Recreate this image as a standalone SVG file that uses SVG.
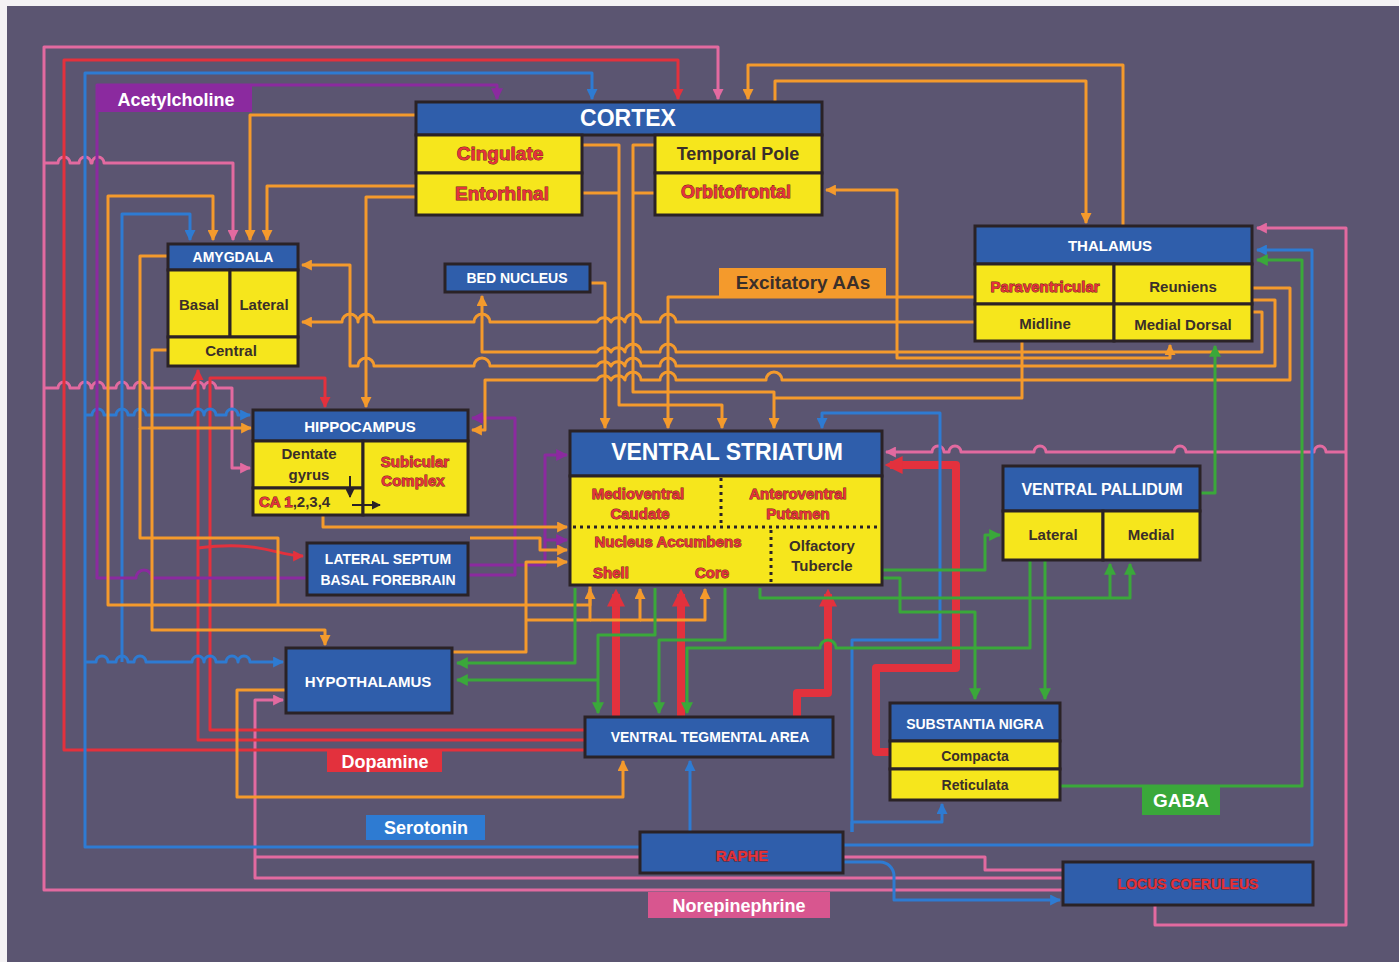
<svg xmlns="http://www.w3.org/2000/svg" width="1399" height="962" viewBox="0 0 1399 962">
<defs>
<style>
.bg{fill:#5b5571}
.nb{fill:#2f5eab;stroke:#2a2226;stroke-width:3}
.ny{fill:#f6e61c;stroke:#2a2226;stroke-width:3}
.c{fill:none;stroke-width:3;stroke-linejoin:round;stroke-linecap:butt}
.o{stroke:#f49a2c}
.r{stroke:#e3313d}
.rt{stroke:#e3313d;stroke-width:8}
.b{stroke:#2e7bd2}
.p{stroke:#8b2a9f}
.g{stroke:#3aa83a}
.k{stroke:#e26aa0}
text{font-family:"Liberation Sans",Arial,Helvetica,sans-serif;font-weight:bold;text-anchor:middle}
.w{fill:#ffffff}
.rd{fill:#e5333b;stroke:#6a1c1c;stroke-width:0.9;paint-order:stroke}
.dk{fill:#3a2f2a}
.dot{fill:none;stroke:#2a2226;stroke-width:3;stroke-dasharray:3 4}
</style>
<marker id="ao" viewBox="0 0 10 10" refX="9" refY="5" markerWidth="11" markerHeight="11" markerUnits="userSpaceOnUse" orient="auto"><path d="M0,0L10,5L0,10z" fill="#f49a2c"/></marker>
<marker id="ar" viewBox="0 0 10 10" refX="9" refY="5" markerWidth="11" markerHeight="11" markerUnits="userSpaceOnUse" orient="auto"><path d="M0,0L10,5L0,10z" fill="#e3313d"/></marker>
<marker id="art" viewBox="0 0 10 10" refX="7" refY="5" markerWidth="18" markerHeight="18" markerUnits="userSpaceOnUse" orient="auto"><path d="M0,0L10,5L0,10z" fill="#e3313d"/></marker>
<marker id="ab" viewBox="0 0 10 10" refX="9" refY="5" markerWidth="11" markerHeight="11" markerUnits="userSpaceOnUse" orient="auto"><path d="M0,0L10,5L0,10z" fill="#2e7bd2"/></marker>
<marker id="ap" viewBox="0 0 10 10" refX="9" refY="5" markerWidth="12" markerHeight="12" markerUnits="userSpaceOnUse" orient="auto"><path d="M0,0L10,5L0,10z" fill="#8b2a9f"/></marker>
<marker id="ag" viewBox="0 0 10 10" refX="9" refY="5" markerWidth="12" markerHeight="12" markerUnits="userSpaceOnUse" orient="auto"><path d="M0,0L10,5L0,10z" fill="#3aa83a"/></marker>
<marker id="ak" viewBox="0 0 10 10" refX="9" refY="5" markerWidth="11" markerHeight="11" markerUnits="userSpaceOnUse" orient="auto"><path d="M0,0L10,5L0,10z" fill="#e26aa0"/></marker>
<marker id="ad" viewBox="0 0 10 10" refX="9" refY="5" markerWidth="9" markerHeight="9" markerUnits="userSpaceOnUse" orient="auto"><path d="M0,0L10,5L0,10z" fill="#2a2226"/></marker>
</defs>
<rect x="0" y="0" width="1399" height="962" fill="#f4f2f4"/>
<rect class="bg" x="7" y="6" width="1392" height="956"/>

<g id="connectors">
<!-- pink norepinephrine -->
<path class="c k" d="M1063,890 H44 V47 H718 V99" marker-end="url(#ak)"/>
<path class="c k" d="M1155,905 V925 H1346 V228 H1257" marker-end="url(#ak)"/>
<path class="c k" d="M44,163 H58 a6,6 0 0 1 12,0 H79 a6,6 0 0 1 12,0 H92 a6,6 0 0 1 12,0 H233 V240" marker-end="url(#ak)"/>
<path class="c k" d="M44,388 H58 a6,6 0 0 1 12,0 H79 a6,6 0 0 1 12,0 H92 a6,6 0 0 1 12,0 H116 a6,6 0 0 1 12,0 H134 a6,6 0 0 1 12,0 H192 a6,6 0 0 1 12,0 a6,6 0 0 1 12,0 H232 V468 H250" marker-end="url(#ak)"/>
<path class="c k" d="M1063,878 H255 V700 H283" marker-end="url(#ak)"/>
<path class="c k" d="M1063,870 H985 V857 H255"/>
<path class="c k" d="M1346,452 H1326 a6,6 0 0 0 -12,0 H1186 a6,6 0 0 0 -12,0 H1046 a6,6 0 0 0 -12,0 H961 a6,6 0 0 0 -12,0 H944 a6,6 0 0 0 -12,0 H886" marker-end="url(#ak)"/>

<!-- red dopamine -->
<path class="c r" d="M585,750 H64 V60 H678 V99" marker-end="url(#ar)"/>
<path class="c r" d="M585,740 H198 V370" marker-end="url(#ar)"/>
<path class="c r" d="M585,730 H210 V378 H325 V407" marker-end="url(#ar)"/>
<path class="c r" d="M198,548 C262,540 276,556 303,556" marker-end="url(#ar)"/>
<path class="c rt" d="M616,717 V594" marker-end="url(#art)"/>
<path class="c rt" d="M681,717 V594" marker-end="url(#art)"/>
<path class="c rt" d="M797,717 V693 H828 V594" marker-end="url(#art)"/>
<path class="c rt" d="M890,752 H876 V668 H956 V465 H890" marker-end="url(#art)"/>

<!-- blue serotonin -->
<path class="c b" d="M640,847 H85 V73 H592 V99" marker-end="url(#ab)"/>
<path class="c b" d="M85,662 H96 a6,6 0 0 1 12,0 H116 a6,6 0 0 1 12,0 H134 a6,6 0 0 1 12,0 H192 a6,6 0 0 1 12,0 a6,6 0 0 1 12,0 H226 a6,6 0 0 1 12,0 a6,6 0 0 1 12,0 H283" marker-end="url(#ab)"/>
<path class="c b" d="M122,662 V214 H190 V240" marker-end="url(#ab)"/>
<path class="c b" d="M85,415 H92 a6,6 0 0 1 12,0 H116 a6,6 0 0 1 12,0 H134 a6,6 0 0 1 12,0 H192 a6,6 0 0 1 12,0 a6,6 0 0 1 12,0 H226 a6,6 0 0 1 12,0 H250" marker-end="url(#ab)"/>
<path class="c b" d="M690,832 V761" marker-end="url(#ab)"/>
<path class="c b" d="M852,832 V822 H942 V804" marker-end="url(#ab)"/>
<path class="c b" d="M843,845 H1312 V250 H1257" marker-end="url(#ab)"/>
<path class="c b" d="M843,862 H880 a14,14 0 0 1 14,14 V900 H1060" marker-end="url(#ab)"/>
<path class="c b" d="M852,832 V640 H940 V413 H822 V428" marker-end="url(#ab)"/>

<!-- purple acetylcholine -->
<path class="c p" d="M307,578 H152 a8,8 0 0 0 -16,0 H97 V85 H497 V99" marker-end="url(#ap)"/>
<path class="c p" d="M468,575 H515 V418 H472" marker-end="url(#ap)"/>
<path class="c p" d="M468,565 H545 V455 H567" marker-end="url(#ap)"/>
<path class="c p" d="M545,540 H567" marker-end="url(#ap)"/>

<!-- orange excitatory amino acids -->
<path class="c o" d="M1123,226 V65 H748 V99" marker-end="url(#ao)"/>
<path class="c o" d="M775,102 V81 H1086 V223" marker-end="url(#ao)"/>
<path class="c o" d="M416,115 H250 V240" marker-end="url(#ao)"/>
<path class="c o" d="M416,186 H267 V240" marker-end="url(#ao)"/>
<path class="c o" d="M416,197 H366 V407" marker-end="url(#ao)"/>
<path class="c o" d="M590,585 V605 H108 V196 H213 V240" marker-end="url(#ao)"/>
<path class="c o" d="M582,145 H619 V405 H722 V428" marker-end="url(#ao)"/>
<path class="c o" d="M655,145 H633 V392 H774 V428" marker-end="url(#ao)"/>
<path class="c o" d="M582,193 H619 M655,193 H633"/>
<path class="c o" d="M590,283 H605 V428" marker-end="url(#ao)"/>
<path class="c o" d="M975,297 H897 V190 H826" marker-end="url(#ao)"/>
<path class="c o" d="M897,297 H668 V428" marker-end="url(#ao)"/>
<path class="c o" d="M975,322 H676 a8,8 0 0 0 -16,0 H641 a8,8 0 0 0 -16,0 a8,8 0 0 0 -14,0 a8,8 0 0 0 -14,0 H490 a8,8 0 0 0 -16,0 H374 a8,8 0 0 0 -16,0 a8,8 0 0 0 -16,0 H302" marker-end="url(#ao)"/>
<path class="c o" d="M1252,288 H1290 V380 H782 a8,8 0 0 0 -16,0 H676 a8,8 0 0 0 -16,0 H641 a8,8 0 0 0 -16,0 a8,8 0 0 0 -14,0 a8,8 0 0 0 -14,0 H485 V430 H472" marker-end="url(#ao)"/>
<path class="c o" d="M1252,300 H1275 V366 H676 a8,8 0 0 0 -16,0 H641 a8,8 0 0 0 -16,0 a8,8 0 0 0 -14,0 a8,8 0 0 0 -14,0 H490 a8,8 0 0 0 -16,0 H374 a8,8 0 0 0 -16,0 H350 V265 H302" marker-end="url(#ao)"/>
<path class="c o" d="M1252,312 H1262 V352 H676 a8,8 0 0 0 -16,0 H641 a8,8 0 0 0 -16,0 a8,8 0 0 0 -14,0 a8,8 0 0 0 -14,0 H482 V296" marker-end="url(#ao)"/>
<path class="c o" d="M1022,341 V398 H774"/>
<path class="c o" d="M897,297 V358 H1170 V345" marker-end="url(#ao)"/>
<path class="c o" d="M168,256 H140 V428 H251" marker-end="url(#ao)"/>
<path class="c o" d="M323,515 V527 H567" marker-end="url(#ao)"/>
<path class="c o" d="M140,428 V538 H278 V605"/>
<path class="c o" d="M470,538 H540 V550 H567" marker-end="url(#ao)"/>
<path class="c o" d="M168,350 H152 V630 H325 V645" marker-end="url(#ao)"/>
<path class="c o" d="M452,652 H526 V562 H567" marker-end="url(#ao)"/>
<path class="c o" d="M286,690 H237 V797 H623 V761" marker-end="url(#ao)"/>
<path class="c o" d="M526,620 H590 V589" marker-end="url(#ao)"/>
<path class="c o" d="M590,620 H640 V589" marker-end="url(#ao)"/>
<path class="c o" d="M640,620 H705 V589" marker-end="url(#ao)"/>

<!-- green GABA -->
<path class="c g" d="M1060,786 H1302 V260 H1257" marker-end="url(#ag)"/>
<path class="c g" d="M1200,493 H1215 V346" marker-end="url(#ag)"/>
<path class="c g" d="M575,588 V663 H457" marker-end="url(#ag)"/>
<path class="c g" d="M655,588 V635 H598 V713" marker-end="url(#ag)"/>
<path class="c g" d="M598,680 H457" marker-end="url(#ag)"/>
<path class="c g" d="M725,588 V640 H659 V713" marker-end="url(#ag)"/>
<path class="c g" d="M1030,560 V648 H836 a8,8 0 0 0 -16,0 H687 V713" marker-end="url(#ag)"/>
<path class="c g" d="M882,570 H985 V535 H1000" marker-end="url(#ag)"/>
<path class="c g" d="M882,578 H900 V612 H975 V699" marker-end="url(#ag)"/>
<path class="c g" d="M1045,560 V699" marker-end="url(#ag)"/>
<path class="c g" d="M760,588 V598 H1130 V564" marker-end="url(#ag)"/>
<path class="c g" d="M1110,598 V564" marker-end="url(#ag)"/>
</g>

<g id="labels">
<rect x="96" y="86" width="156" height="26" fill="#8b2a9f"/>
<text class="w" x="176" y="106" font-size="18">Acetylcholine</text>
<rect x="719" y="268" width="167" height="28" fill="#f49a2c"/>
<text class="dk" x="803" y="289" font-size="19">Excitatory AAs</text>
<rect x="327" y="750" width="115" height="22" fill="#e3313d"/>
<text class="w" x="385" y="768" font-size="18">Dopamine</text>
<rect x="366" y="815" width="119" height="25" fill="#2e7bd2"/>
<text class="w" x="426" y="834" font-size="18">Serotonin</text>
<rect x="1142" y="786" width="78" height="29" fill="#3aa83a"/>
<text class="w" x="1181" y="807" font-size="19">GABA</text>
<rect x="648" y="892" width="182" height="26" fill="#d8568f"/>
<text class="w" x="739" y="912" font-size="18">Norepinephrine</text>
</g>

<g id="cortex">
<rect class="nb" x="416" y="102" width="406" height="33"/>
<rect class="ny" x="416" y="135" width="166" height="38"/>
<rect class="ny" x="416" y="173" width="166" height="42"/>
<rect class="ny" x="655" y="135" width="167" height="38"/>
<rect class="ny" x="655" y="173" width="167" height="42"/>
<text class="w" x="628" y="126" font-size="23">CORTEX</text>
<text class="rd" x="500" y="160" font-size="19">Cingulate</text>
<text class="rd" x="502" y="200" font-size="19">Entorhinal</text>
<text class="dk" x="738" y="160" font-size="18">Temporal Pole</text>
<text class="rd" x="736" y="198" font-size="18">Orbitofrontal</text>
</g>

<g id="amygdala">
<rect class="nb" x="168" y="244" width="130" height="26"/>
<rect class="ny" x="168" y="270" width="62" height="67"/>
<rect class="ny" x="230" y="270" width="68" height="67"/>
<rect class="ny" x="168" y="337" width="130" height="29"/>
<text class="w" x="233" y="262" font-size="14">AMYGDALA</text>
<text class="dk" x="199" y="310" font-size="15">Basal</text>
<text class="dk" x="264" y="310" font-size="15">Lateral</text>
<text class="dk" x="231" y="356" font-size="15">Central</text>
</g>

<g id="bed-nucleus">
<rect class="nb" x="445" y="264" width="145" height="28"/>
<text class="w" x="517" y="283" font-size="14">BED NUCLEUS</text>
</g>

<g id="thalamus">
<rect class="nb" x="975" y="226" width="277" height="38"/>
<rect class="ny" x="975" y="264" width="139" height="40"/>
<rect class="ny" x="1114" y="264" width="138" height="40"/>
<rect class="ny" x="975" y="304" width="139" height="37"/>
<rect class="ny" x="1114" y="304" width="138" height="37"/>
<text class="w" x="1110" y="251" font-size="15">THALAMUS</text>
<text class="rd" x="1045" y="292" font-size="15">Paraventricular</text>
<text class="dk" x="1183" y="292" font-size="15">Reuniens</text>
<text class="dk" x="1045" y="329" font-size="15">Midline</text>
<text class="dk" x="1183" y="330" font-size="15">Medial Dorsal</text>
</g>

<g id="hippocampus">
<rect class="nb" x="253" y="410" width="215" height="31"/>
<rect class="ny" x="253" y="441" width="110" height="47"/>
<rect class="ny" x="253" y="488" width="110" height="27"/>
<rect class="ny" x="363" y="441" width="105" height="74"/>
<text class="w" x="360" y="432" font-size="15">HIPPOCAMPUS</text>
<text class="dk" x="309" y="459" font-size="15">Dentate</text>
<text class="dk" x="309" y="480" font-size="15">gyrus</text>
<text x="259" y="507" font-size="15" style="text-anchor:start"><tspan class="rd">CA 1</tspan><tspan class="dk">,2,3,4</tspan></text>
<text class="rd" x="415" y="467" font-size="15">Subicular</text>
<text class="rd" x="413" y="486" font-size="15">Complex</text>
<path d="M350,476 V497" stroke="#2a2226" stroke-width="2" fill="none" marker-end="url(#ad)"/>
<path d="M352,505 H380" stroke="#2a2226" stroke-width="2" fill="none" marker-end="url(#ad)"/>
</g>

<g id="ventral-striatum">
<rect class="nb" x="570" y="431" width="312" height="45"/>
<rect class="ny" x="570" y="476" width="312" height="109"/>
<path class="dot" d="M721,478 V526"/>
<path class="dot" d="M573,527 H880"/>
<path class="dot" d="M771,530 V583"/>
<text class="w" x="727" y="460" font-size="23">VENTRAL STRIATUM</text>
<text class="rd" x="638" y="499" font-size="15">Medioventral</text>
<text class="rd" x="640" y="519" font-size="15">Caudate</text>
<text class="rd" x="798" y="499" font-size="15">Anteroventral</text>
<text class="rd" x="798" y="519" font-size="15">Putamen</text>
<text class="rd" x="668" y="547" font-size="15">Nucleus Accumbens</text>
<text class="rd" x="611" y="578" font-size="15">Shell</text>
<text class="rd" x="712" y="578" font-size="15">Core</text>
<text class="dk" x="822" y="551" font-size="15">Olfactory</text>
<text class="dk" x="822" y="571" font-size="15">Tubercle</text>
</g>

<g id="lateral-septum">
<rect class="nb" x="307" y="543" width="161" height="52"/>
<text class="w" x="388" y="564" font-size="14">LATERAL SEPTUM</text>
<text class="w" x="388" y="585" font-size="14">BASAL FOREBRAIN</text>
</g>

<g id="ventral-pallidum">
<rect class="nb" x="1003" y="466" width="197" height="45"/>
<rect class="ny" x="1003" y="511" width="100" height="49"/>
<rect class="ny" x="1103" y="511" width="97" height="49"/>
<text class="w" x="1102" y="495" font-size="16">VENTRAL PALLIDUM</text>
<text class="dk" x="1053" y="540" font-size="15">Lateral</text>
<text class="dk" x="1151" y="540" font-size="15">Medial</text>
</g>

<g id="hypothalamus">
<rect class="nb" x="286" y="648" width="166" height="65"/>
<text class="w" x="368" y="687" font-size="15">HYPOTHALAMUS</text>
</g>

<g id="ventral-tegmental-area">
<rect class="nb" x="585" y="717" width="248" height="40"/>
<text class="w" x="710" y="742" font-size="14">VENTRAL TEGMENTAL AREA</text>
</g>

<g id="substantia-nigra">
<rect class="nb" x="890" y="703" width="170" height="38"/>
<rect class="ny" x="890" y="741" width="170" height="28"/>
<rect class="ny" x="890" y="769" width="170" height="31"/>
<text class="w" x="975" y="729" font-size="14">SUBSTANTIA NIGRA</text>
<text class="dk" x="975" y="761" font-size="14">Compacta</text>
<text class="dk" x="975" y="790" font-size="14">Reticulata</text>
</g>

<g id="raphe">
<rect class="nb" x="640" y="832" width="203" height="41"/>
<text class="rd" x="742" y="861" font-size="15">RAPHE</text>
</g>

<g id="locus-coeruleus">
<rect class="nb" x="1063" y="862" width="250" height="43"/>
<text class="rd" x="1188" y="889" font-size="14">LOCUS COERULEUS</text>
</g>
</svg>
